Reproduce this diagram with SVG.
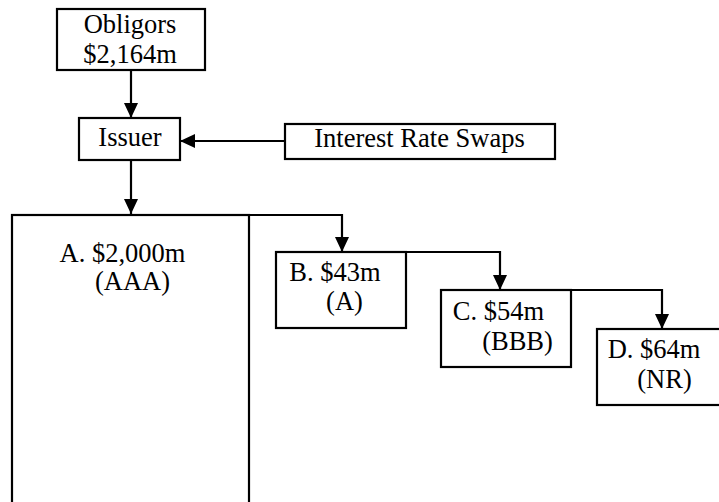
<svg xmlns="http://www.w3.org/2000/svg" width="719" height="502" viewBox="0 0 719 502">
  <style>
    .box { fill: #fff; stroke: #000; stroke-width: 2.2; }
    .lbl { font-family: "Liberation Serif", "Times New Roman", serif; font-size: 26.5px; fill: #000; text-anchor: middle; }
    .conn { fill: none; stroke: #000; stroke-width: 2.2; }
  </style>
  <defs>
    <marker id="arrow" markerUnits="userSpaceOnUse" markerWidth="15" markerHeight="14" refX="15" refY="7" orient="auto">
      <path d="M0,0 L15,7 L0,14 z" fill="#000"/>
    </marker>
  </defs>
  <rect width="719" height="502" fill="#fff"/>
  <g id="obligors">
    <rect class="box" x="57" y="9" width="148" height="61"/>
    <text class="lbl" x="130" y="33">Obligors</text>
    <text class="lbl" x="130" y="63">$2,164m</text>
  </g>
  <g id="issuer">
    <rect class="box" x="79" y="118" width="101" height="42"/>
    <text class="lbl" x="130" y="146">Issuer</text>
  </g>
  <g id="swaps">
    <rect class="box" x="285" y="124" width="270" height="35"/>
    <text class="lbl" x="419.5" y="147">Interest Rate Swaps</text>
  </g>
  <g id="trancheA">
    <rect class="box" x="12" y="215" width="237" height="300"/>
    <text class="lbl" x="122.5" y="262">A. $2,000m</text>
    <text class="lbl" x="132.5" y="290">(AAA)</text>
  </g>
  <g id="trancheB">
    <rect class="box" x="276" y="252" width="130" height="76"/>
    <text class="lbl" x="335" y="281">B. $43m</text>
    <text class="lbl" x="344.5" y="310">(A)</text>
  </g>
  <g id="trancheC">
    <rect class="box" x="441" y="290" width="130" height="77"/>
    <text class="lbl" x="498.5" y="320">C. $54m</text>
    <text class="lbl" x="517.5" y="350">(BBB)</text>
  </g>
  <g id="trancheD">
    <rect class="box" x="597" y="329" width="130" height="76"/>
    <text class="lbl" x="654" y="358">D. $64m</text>
    <text class="lbl" x="664.5" y="388">(NR)</text>
  </g>
  <g id="connectors">
    <path class="conn" d="M131,70 L131,118" marker-end="url(#arrow)"/>
    <path class="conn" d="M285,141 L180,141" marker-end="url(#arrow)"/>
    <path class="conn" d="M131,160 L131,214" marker-end="url(#arrow)"/>
    <path class="conn" d="M249,215 L342,215 L342,252" marker-end="url(#arrow)"/>
    <path class="conn" d="M406,252 L500,252 L500,290" marker-end="url(#arrow)"/>
    <path class="conn" d="M571,290 L662,290 L662,329" marker-end="url(#arrow)"/>
  </g>
</svg>
